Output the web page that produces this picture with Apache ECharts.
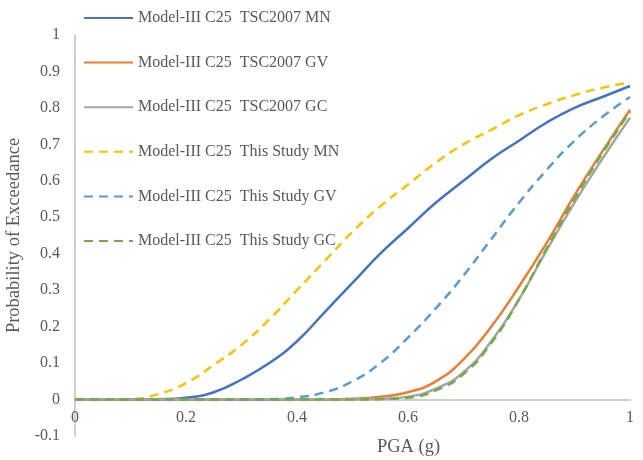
<!DOCTYPE html>
<html>
<head>
<meta charset="utf-8">
<script src="https://cdn.jsdelivr.net/npm/echarts@6/dist/echarts.min.js"></script>
<style>
  html, body { margin: 0; padding: 0; background: #fff; }
  #chart { width: 643px; height: 460px; }
</style>
</head>
<body>
<div id="chart"></div>
<script>
// PGA (g) sample points
var pga = [0, 0.05, 0.1, 0.15, 0.2, 0.25, 0.3, 0.35, 0.4, 0.45, 0.5,
           0.55, 0.6, 0.65, 0.7, 0.75, 0.8, 0.85, 0.9, 0.95, 1.0];

// probabilities
var tscMN = [0, 0, 0, 0.001, 0.005, 0.02, 0.055, 0.1, 0.16, 0.24, 0.32,
             0.4, 0.47, 0.54, 0.6, 0.66, 0.71, 0.76, 0.8, 0.83, 0.86];
var tscGV = [0, 0, 0, 0, 0, 0, 0, 0, 0, 0, 0.002,
             0.008, 0.02, 0.05, 0.11, 0.2, 0.31, 0.43, 0.56, 0.68, 0.795];
var tscGC = [0, 0, 0, 0, 0, 0, 0, 0, 0, 0, 0,
             0.002, 0.008, 0.03, 0.075, 0.16, 0.275, 0.41, 0.54, 0.66, 0.773];
var studyMN = [0, 0, 0.001, 0.015, 0.045, 0.095, 0.15, 0.22, 0.3, 0.38, 0.46,
               0.53, 0.59, 0.65, 0.7, 0.74, 0.78, 0.81, 0.835, 0.855, 0.87];
var studyGV = [0, 0, 0, 0, 0, 0, 0, 0.001, 0.006, 0.02, 0.05,
               0.1, 0.17, 0.25, 0.34, 0.44, 0.54, 0.63, 0.71, 0.775, 0.83];
var studyGC = [0, 0, 0, 0, 0, 0, 0, 0, 0, 0, 0,
               0.001, 0.005, 0.025, 0.07, 0.155, 0.275, 0.415, 0.55, 0.675, 0.79];

var names = ['Model-III C25  TSC2007 MN', 'Model-III C25  TSC2007 GV', 'Model-III C25  TSC2007 GC',
             'Model-III C25  This Study MN', 'Model-III C25  This Study GV', 'Model-III C25  This Study GC'];
var colors = ['#4472C4', '#ED7D31', '#A5A5A5', '#FFC000', '#5B9BD5', '#70AD47'];
var values = [tscMN, tscGV, tscGC, studyMN, studyGV, studyGC];

var font = '"Liberation Serif", "Times New Roman", serif';

function pairs(ys) {
	return pga.map(function (x, i) { return [x, ys[i]]; });
}

var series = names.map(function (n, i) {
	return {
		name: n,
		type: 'line',
		smooth: true,
		symbol: 'none',
		data: pairs(values[i]),
		lineStyle: {
			color: colors[i],
			width: 2.5,
			type: i < 3 ? 'solid' : [9, 6]
		},
		itemStyle: { color: colors[i] }
	};
});

var chart = echarts.init(document.getElementById('chart'));
chart.setOption({
	animation: false,
	textStyle: { fontFamily: font },
	grid: { left: 75, right: 13, top: 35, bottom: 24, outerBoundsMode: 'none' },
	legend: {
		orient: 'vertical',
		left: 78,
		top: 5,
		itemWidth: 49,
		itemHeight: 14,
		itemGap: 28.6,
		data: names,
		itemStyle: { opacity: 0 },
		textStyle: { fontFamily: font, fontSize: 16, lineHeight: 16, color: '#595959' }
	},
	xAxis: {
		type: 'value',
		min: 0,
		max: 1,
		interval: 0.2,
		name: 'PGA (g)',
		nameLocation: 'middle',
		nameGap: 2,
		nameTextStyle: { fontFamily: font, fontSize: 18.5, color: '#595959', padding: [0, 0, 0, 112] },
		axisLine: { onZero: true, lineStyle: { color: '#BFBFBF', width: 1.5 } },
		axisTick: { show: false },
		splitLine: { show: false },
		axisLabel: { fontFamily: font, fontSize: 16, color: '#595959', margin: -26 }
	},
	yAxis: {
		type: 'value',
		min: -0.1,
		max: 1,
		interval: 0.1,
		name: 'Probability of Exceedance',
		nameLocation: 'middle',
		nameGap: 47,
		nameTextStyle: { fontFamily: font, fontSize: 18.5, color: '#595959' },
		axisLine: { show: true, lineStyle: { color: '#BFBFBF', width: 1.5 } },
		axisTick: { show: false },
		splitLine: { show: false },
		axisLabel: {
			fontFamily: font, fontSize: 16, color: '#595959', margin: 15,
			formatter: function (v) { return String(Math.round(v * 10) / 10); }
		}
	},
	series: series
});
</script>
</body>
</html>
